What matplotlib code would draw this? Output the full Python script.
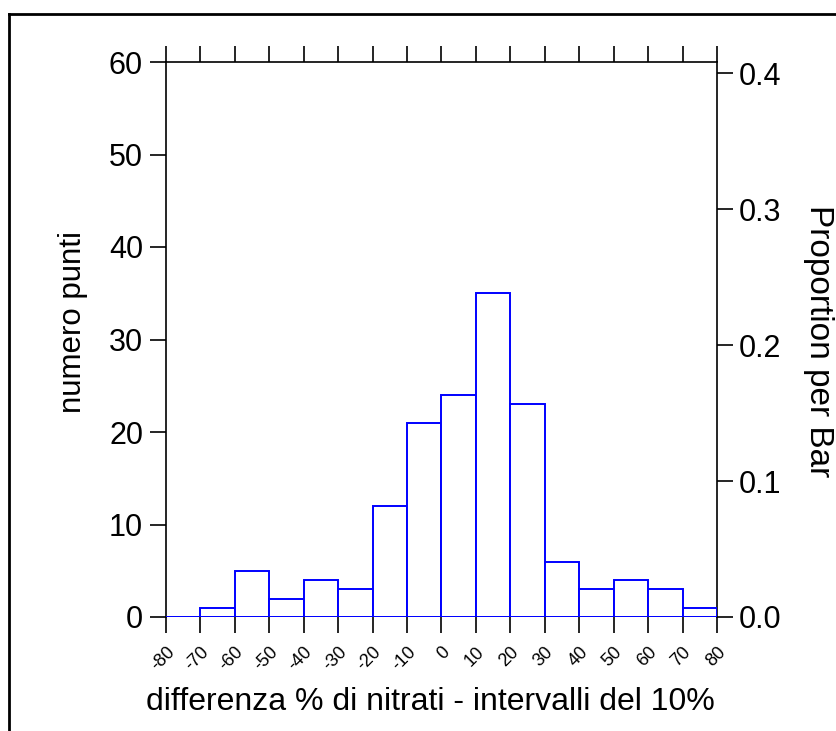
import matplotlib
matplotlib.use("Agg")
import matplotlib.pyplot as plt
from matplotlib.lines import Line2D
import numpy as np

# Data
bin_edges = [-80, -70, -60, -50, -40, -30, -20, -10, 0, 10, 20, 30, 40, 50, 60, 70, 80]
counts = [0, 1, 5, 2, 4, 3, 12, 21, 24, 35, 23, 6, 3, 4, 3, 1]
left_ticks = [0, 10, 20, 30, 40, 50, 60]
right_ticks = [0.0, 0.1, 0.2, 0.3, 0.4]
xlabel = "differenza % di nitrati - intervalli del 10%"
ylabel = "numero punti"
ylabel_right = "Proportion per Bar"

plt.rcParams['font.family'] = ['Liberation Sans', 'DejaVu Sans']

W, H = 837, 731
fig = plt.figure(figsize=(W / 100, H / 100), dpi=100)
ax = fig.add_axes([166 / W, 1 - 617 / H, (717 - 166) / W, (617 - 62) / H])

total = sum(counts)
lefts = bin_edges[:-1]
widths = np.diff(bin_edges)
ax.bar(lefts, counts, width=widths, align='edge', facecolor='white',
       edgecolor='#0000ff', linewidth=1.4, zorder=3)
ax.plot([bin_edges[0], bin_edges[-1]], [0, 0], color='#0000ff', lw=1.8, zorder=4)

ax.set_xlim(bin_edges[0], bin_edges[-1])
ax.set_ylim(0, 60)
ax.set_yticks(left_ticks)
ax.set_yticklabels([str(t) for t in left_ticks], fontsize=22)
ax.set_xticks(bin_edges)
ax.set_xticklabels([str(e) for e in bin_edges], fontsize=13, rotation=45,
                   ha='right', va='top', rotation_mode='anchor')
ax.tick_params(axis='x', which='both', direction='out', length=11.5, width=1.2,
               top=True, labeltop=False, pad=7.5, colors='black')
ax.tick_params(axis='y', direction='out', length=11.5, width=1.2, pad=5)
for s in ['left', 'top', 'right']:
    ax.spines[s].set_linewidth(1.2)
ax.spines['bottom'].set_visible(False)

ax2 = ax.twinx()
ax2.set_ylim(0, 60 / total)
ax2.set_yticks(right_ticks)
ax2.set_yticklabels([f"{t:.1f}" for t in right_ticks], fontsize=22)
ax2.tick_params(axis='y', direction='out', length=11.5, width=1.2, pad=4.5)
for s in ['left', 'top', 'right', 'bottom']:
    ax2.spines[s].set_visible(False)

# Axis titles
fig.text(430 / W, 1 - 710 / H, xlabel, fontsize=23, ha='center', va='baseline')
fig.text(73 / W, 1 - 322 / H, ylabel, fontsize=22.5, rotation=90,
         ha='center', va='center')
fig.text(819 / W, 1 - 341 / H, ylabel_right, fontsize=24, rotation=-90,
         ha='center', va='center')

# Outer frame (top and left only)
fig.add_artist(Line2D([9 / W, 9 / W], [0, 1 - 14 / H], transform=fig.transFigure,
                      color='black', lw=2))
fig.add_artist(Line2D([9 / W, 1], [1 - 14 / H, 1 - 14 / H], transform=fig.transFigure,
                      color='black', lw=2))

fig.savefig("out.png", dpi=100)
